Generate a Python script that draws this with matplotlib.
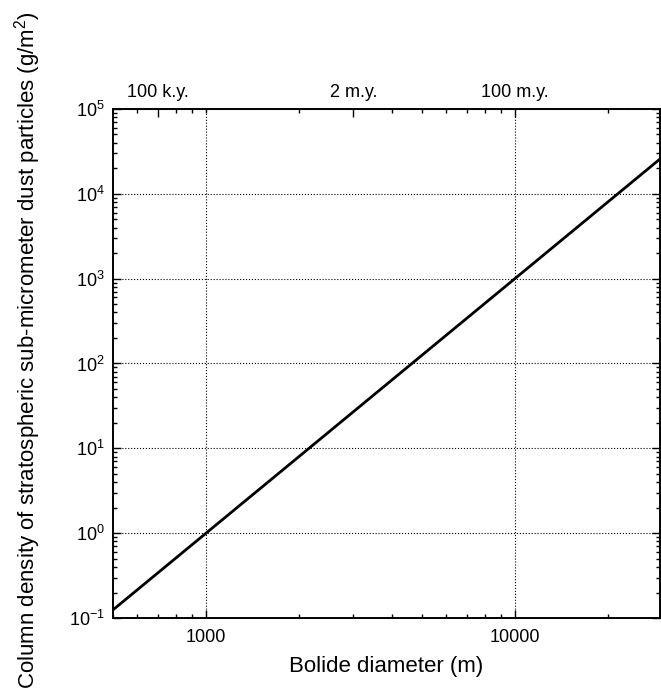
import matplotlib
matplotlib.use("Agg")
import matplotlib.pyplot as plt
from matplotlib.ticker import LogLocator, FixedLocator, NullFormatter, FixedFormatter

plt.rcParams['font.family'] = ['Liberation Sans', 'DejaVu Sans']
plt.rcParams['mathtext.fontset'] = 'custom'
plt.rcParams['mathtext.rm'] = 'Liberation Sans'
plt.rcParams['axes.unicode_minus'] = False

# data
diameter = [500, 1000, 10000, 29500]
density = [0.125, 1.0, 1000.0, 25700.0]

xticks = [1000, 10000]
xticklabels = ['1000', '10000']
top_ticks = [700, 3000, 10000]
top_labels = ['100 k.y.', '2 m.y.', '100 m.y.']

fig = plt.figure(figsize=(6.61, 6.96), dpi=100)
ax = fig.add_axes([0.171, 0.112, 0.8275, 0.7315])

ax.plot(diameter, density, color='black', lw=2)
ax.set_xscale('log')
ax.set_yscale('log')
ax.set_xlim(500, 29500)
ax.set_ylim(0.1, 1e5)

ax.xaxis.set_major_locator(FixedLocator(xticks))
ax.xaxis.set_major_formatter(FixedFormatter(xticklabels))
ax.xaxis.set_minor_locator(LogLocator(base=10, subs=range(2, 10), numticks=20))
ax.xaxis.set_minor_formatter(NullFormatter())
ax.yaxis.set_major_locator(LogLocator(base=10, numticks=20))
ax.yaxis.set_minor_locator(LogLocator(base=10, subs=range(2, 10), numticks=20))
ax.yaxis.set_minor_formatter(NullFormatter())

ax.tick_params(which='both', direction='in', right=True, labelsize=13)
ax.tick_params(which='major', length=6, width=1)
ax.tick_params(which='minor', length=3, width=1)
ax.tick_params(axis='y', pad=6)
ax.tick_params(axis='x', pad=8)

ax.grid(True, which='major', ls=':', color='black', lw=0.8)

# time scale on the top axis
top = ax.twiny()
top.set_xscale('log')
top.set_xlim(ax.get_xlim())
top.xaxis.set_major_locator(FixedLocator(top_ticks))
top.xaxis.set_major_formatter(FixedFormatter(top_labels))
minor_top = [600, 800, 900, 1000, 2000, 4000, 5000, 6000, 7000, 8000, 9000, 20000]
top.xaxis.set_minor_locator(FixedLocator(minor_top))
top.xaxis.set_minor_formatter(NullFormatter())
top.tick_params(which='both', direction='in', labelsize=13, pad=6)
top.tick_params(which='major', length=6, width=1)
top.tick_params(which='minor', length=3, width=1)

for a in (ax, top):
    for s in a.spines.values():
        s.set_linewidth(1.2)

ax.set_xlabel('Bolide diameter (m)', fontsize=16, labelpad=7)
fig.text(0.042, 0.497, r'Column density of stratospheric sub-micrometer dust particles (g/m$^2$)',
         rotation=90, va='center', ha='center', fontsize=16)

fig.savefig('out.png', dpi=100)
